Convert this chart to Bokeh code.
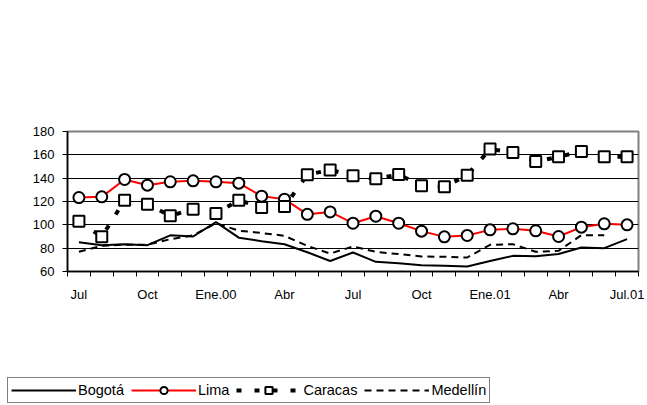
import numpy as np
from bokeh.plotting import figure
from bokeh.models import Range1d, FixedTicker, Legend, LegendItem
from bokeh.layouts import column, row
from bokeh.embed import file_html
from bokeh.resources import INLINE

months = ["Jul", "Ago", "Sep", "Oct", "Nov", "Dic", "Ene.00", "Feb", "Mar", "Abr", "May", "Jun",
          "Jul", "Ago", "Sep", "Oct", "Nov", "Dic", "Ene.01", "Feb", "Mar", "Abr", "May", "Jun", "Jul.01"]
tick_labels = ["Jul", "Oct", "Ene.00", "Abr", "Jul", "Oct", "Ene.01", "Abr", "Jul.01"]

bogota = [85, 82.6, 83.4, 82.6, 91, 90, 102.3, 89, 86, 83.4, 76.5, 69, 76.3, 68.3, 67, 65.4, 65,
          64.3, 69, 73.4, 73, 75, 80.6, 80, 87.7]
lima = [123.4, 124, 138.9, 134, 136.9, 137.7, 136.9, 135.7, 124.6, 122, 109, 111.1, 101.4, 107.4,
        101.4, 94.6, 89.7, 90.9, 95.7, 96.6, 94.9, 90, 98, 100.9, 100]
caracas = [103.1, 89.7, 121.1, 117.7, 107.7, 113.4, 109.7, 121.1, 114.9, 115.7, 142.9, 147.1, 142,
           139.4, 143.1, 133.4, 132.6, 142.6, 164.9, 162, 154.3, 158.3, 162.9, 158.3, 158.3]
medellin = [76.9, 82, 83, 83, 87.7, 91, 101.4, 95, 93, 90.6, 82, 75.4, 81.4, 76.9, 74.9, 72.9,
            72.6, 72, 82.9, 83.4, 76.9, 77.7, 91.1, 91.1, float("nan")]

n = len(months)
x = np.arange(n) + 0.5

FONT = "Liberation Sans"

STYLES = {
    "bog": dict(line_color="black", line_width=2),
    "lima_l": dict(line_color="red", line_width=2),
    "lima_m": dict(marker="circle", size=11, fill_color="white", line_color="black", line_width=2),
    "car_l": dict(line_color="black", line_width=4, line_dash="5 13"),
    "car_m": dict(marker="square", size=11, fill_color="white", line_color="black", line_width=2),
    "med": dict(line_color="black", line_width=2, line_dash="7 5"),
}


def draw(fig):
    r = {}
    r["bog"] = fig.line(x, bogota, **STYLES["bog"])
    r["lima_l"] = fig.line(x, lima, **STYLES["lima_l"])
    r["lima_m"] = fig.scatter(x, lima, **STYLES["lima_m"])
    r["car_l"] = fig.line(x, caracas, **STYLES["car_l"])
    r["car_m"] = fig.scatter(x, caracas, **STYLES["car_m"])
    r["med"] = fig.line(x, medellin, **STYLES["med"])
    return r


p = figure(width=645, height=310, output_backend="svg", toolbar_location=None,
           x_range=Range1d(0, n), y_range=Range1d(60, 180),
           min_border_left=67, min_border_right=7, min_border_top=131, min_border_bottom=39)
p.background_fill_color = "white"
p.border_fill_color = "white"
p.outline_line_color = "#808080"
p.outline_line_width = 2

major = [i + 0.5 for i in range(0, n, 3)]
p.xaxis.ticker = FixedTicker(ticks=major, minor_ticks=list(range(0, n + 1)))
p.xaxis.major_label_overrides = {m: lab for m, lab in zip(major, tick_labels)}
p.xaxis.major_tick_line_color = None
p.xaxis.major_tick_out = 0
p.xaxis.major_tick_in = 0
p.xaxis.minor_tick_line_color = "black"
p.xaxis.minor_tick_out = 5
p.xaxis.minor_tick_in = 0
p.xaxis.major_label_standoff = 10
p.yaxis.ticker = FixedTicker(ticks=[60, 80, 100, 120, 140, 160, 180])
p.yaxis.minor_tick_line_color = None
p.yaxis.major_tick_out = 5
p.yaxis.major_tick_in = 0
p.yaxis.major_label_standoff = 8
for ax in (p.xaxis, p.yaxis):
    ax.axis_line_color = "black"
    ax.axis_line_width = 1.5
    ax.major_label_text_font = FONT
    ax.major_label_text_font_size = "13px"
    ax.major_label_text_color = "black"
p.xgrid.grid_line_color = None
p.ygrid.grid_line_color = "black"
p.ygrid.grid_line_width = 1

draw(p)

# legend panel: a second figure whose ranges hide its copies of the series
lg = figure(width=645, height=93, output_backend="svg", toolbar_location=None,
            x_range=Range1d(1000, 1001), y_range=Range1d(1000, 1001),
            min_border=0, min_border_left=0, min_border_right=0, min_border_top=0, min_border_bottom=0)
lg.axis.visible = False
lg.grid.visible = False
lg.outline_line_color = None
lr = draw(lg)

legend = Legend(items=[
    LegendItem(label="Bogotá", renderers=[lr["bog"]]),
    LegendItem(label="Lima", renderers=[lr["lima_l"], lr["lima_m"]]),
    LegendItem(label="Caracas", renderers=[lr["car_l"], lr["car_m"]]),
    LegendItem(label="Medellín", renderers=[lr["med"]]),
], orientation="horizontal", location=(7, 0))
legend.label_text_font = FONT
legend.label_text_font_size = "14.5px"
legend.label_text_color = "black"
legend.glyph_width = 65
legend.glyph_height = 18
legend.label_height = 18
legend.label_standoff = 2
legend.spacing = 7
legend.padding = 3
legend.margin = 0
legend.border_line_color = "black"
legend.border_line_width = 1
legend.background_fill_color = "white"
legend.background_fill_alpha = 1
lg.add_layout(legend, "center")

open("out.html", "w").write(file_html(column(row(p), row(lg)), INLINE))
